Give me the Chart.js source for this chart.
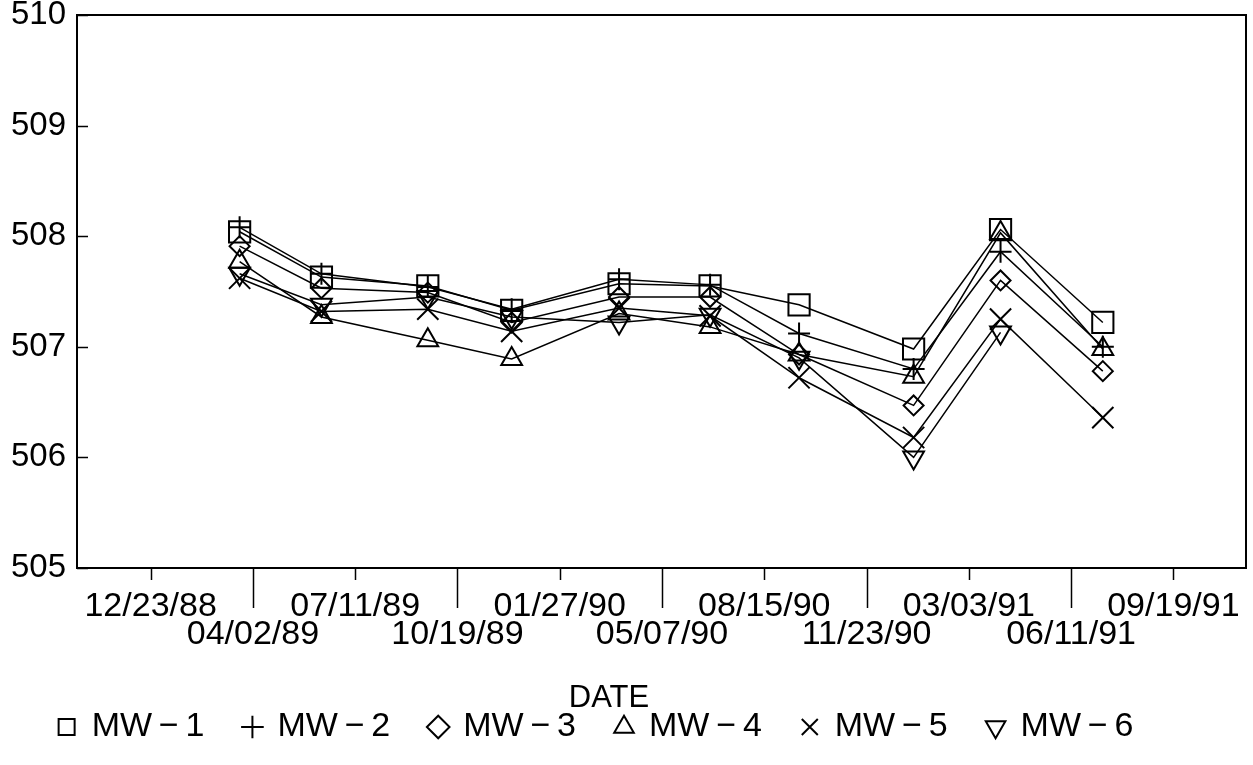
<!DOCTYPE html>
<html>
<head>
<meta charset="utf-8">
<script src="https://cdn.jsdelivr.net/npm/chart.js@4.4.0/dist/chart.umd.min.js"></script>
<style>
  html, body { margin: 0; padding: 0; background: #fff; }
</style>
</head>
<body>
<canvas id="levelChart" width="1253" height="765"></canvas>
<script>
// sampling dates (mm/dd/yy) and water levels per well
const sampleDates = ['03/20/89', '06/08/89', '09/20/89', '12/11/89', '03/26/90',
                     '06/23/90', '09/18/90', '01/08/91', '04/03/91', '07/12/91'];

const mw1 = [508.04, 507.63, 507.55, 507.33, 507.57, 507.55, 507.38, 506.98, 508.06, 507.22];
const mw2 = [508.08, 507.66, 507.54, 507.34, 507.61, 507.56, 507.12, 506.80, 507.86, 507.00];
const mw3 = [507.91, 507.53, 507.49, 507.22, 507.45, 507.45, 506.93, 506.47, 507.60, 506.78];
const mw4 = [507.77, 507.27, 507.06, 506.89, 507.30, 507.18, 506.93, 506.73, 508.03, 506.98];
const mw5 = [507.62, 507.32, 507.34, 507.14, 507.35, 507.28, 506.72, 506.18, 507.25, 506.36];
const mw6 = [507.66, 507.38, 507.45, 507.27, 507.22, 507.29, 506.90, 506.00, 507.13, null];

const seriesNames = ['MW\u2009\u2212\u20091', 'MW\u2009\u2212\u20092', 'MW\u2009\u2212\u20093',
                     'MW\u2009\u2212\u20094', 'MW\u2009\u2212\u20095', 'MW\u2009\u2212\u20096'];

// x axis tick labels, every 100 days
const tickLabels = ['12/23/88', '04/02/89', '07/11/89', '10/19/89', '01/27/90', '05/07/90',
                    '08/15/90', '11/23/90', '03/03/91', '06/11/91', '09/19/91'];
const yTicks = [505, 506, 507, 508, 509, 510];

const dayZero = Date.UTC(1988, 11, 23);
function toDays(s) {
  const [m, d, y] = s.split('/').map(Number);
  return Math.round((Date.UTC(1900 + y, m - 1, d) - dayZero) / 86400000);
}
const tickDays = tickLabels.map(toDays);
const xMin = -72, xMax = 1071;

function points(values) {
  return sampleDates.map((d, i) => ({ x: toDays(d), y: values[i] }));
}

const styles = [
  { pointStyle: 'rect', radius: 15, rotation: 0 },
  { pointStyle: 'cross', radius: 11, rotation: 0 },
  { pointStyle: 'rectRot', radius: 10, rotation: 0 },
  { pointStyle: 'triangle', radius: 12, rotation: 0 },
  { pointStyle: 'crossRot', radius: 15, rotation: 0 },
  { pointStyle: 'triangle', radius: 12, rotation: 180 }
];

const datasets = [mw1, mw2, mw3, mw4, mw5, mw6].map((vals, i) => ({
  label: seriesNames[i],
  data: points(vals),
  borderColor: '#000',
  backgroundColor: 'rgba(0,0,0,0)',
  borderWidth: 1.5,
  pointStyle: styles[i].pointStyle,
  pointRadius: styles[i].radius,
  pointRotation: styles[i].rotation,
  pointBorderWidth: 2,
  pointBackgroundColor: 'rgba(0,0,0,0)',
  pointBorderColor: '#000',
  tension: 0
}));

// frame round the plot, outward ticks on x, inward ticks on y
const axisMarks = {
  id: 'axisMarks',
  afterDraw(chart) {
    const { ctx, chartArea: a, scales: { x, y } } = chart;
    ctx.save();
    ctx.strokeStyle = '#000';
    ctx.lineWidth = 2;
    ctx.strokeRect(a.left, a.top, a.right - a.left, a.bottom - a.top);
    ctx.lineWidth = 1.5;
    ctx.beginPath();
    tickDays.forEach((d, i) => {
      const px = Math.round(x.getPixelForValue(d)) + 0.5;
      ctx.moveTo(px, a.bottom);
      ctx.lineTo(px, a.bottom + (i % 2 ? 40 : 12));
    });
    yTicks.forEach(v => {
      const py = Math.round(y.getPixelForValue(v)) + 0.5;
      ctx.moveTo(a.left, py);
      ctx.lineTo(a.left + 11, py);
    });
    ctx.stroke();
    ctx.restore();
  }
};

// the axis title and legend sit a bit left of centre in the original
const shiftBoxes = {
  id: 'shiftBoxes',
  afterLayout(chart) {
    chart.legend.left -= 27;
    chart.legend.right -= 27;
    chart.titleBlock.left -= 14;
    chart.titleBlock.right -= 14;
  }
};

Chart.defaults.font.family = '"Liberation Sans", Arial, sans-serif';
Chart.defaults.color = '#000';

const ctx = document.getElementById('levelChart').getContext('2d');
new Chart(ctx, {
  type: 'line',
  data: { datasets: datasets },
  options: {
    responsive: false,
    animation: false,
    devicePixelRatio: 1,
    layout: { autoPadding: false, padding: { top: 15, right: 7, left: 0, bottom: 11 } },
    scales: {
      x: {
        type: 'linear',
        min: xMin,
        max: xMax,
        afterBuildTicks: axis => { axis.ticks = tickDays.map(v => ({ value: v })); },
        afterFit: scale => {
          scale.height = 95;
          scale.paddingLeft = 0;
          scale.paddingRight = 0;
        },
        grid: { display: false, drawTicks: false },
        border: { display: false },
        ticks: {
          autoSkip: false,
          maxRotation: 0,
          padding: 25,
          font: { size: 34, lineHeight: 0.82 },
          callback: (value) => {
            const i = tickDays.indexOf(value);
            return i % 2 ? ['', tickLabels[i]] : tickLabels[i];
          }
        }
      },
      y: {
        min: 505,
        max: 510,
        afterBuildTicks: axis => { axis.ticks = yTicks.map(v => ({ value: v })); },
        afterFit: scale => {
          scale.width = 77;
          scale.paddingTop = 0;
          scale.paddingBottom = 0;
        },
        grid: { display: false, drawTicks: false },
        border: { display: false },
        ticks: { padding: 11, font: { size: 33 } }
      }
    },
    plugins: {
      title: {
        display: true,
        text: 'DATE',
        position: 'bottom',
        weight: 500,
        font: { size: 31, weight: 'normal', lineHeight: 1 },
        padding: { top: 20, bottom: -44 }
      },
      legend: {
        position: 'bottom',
        labels: {
          usePointStyle: true,
          boxWidth: 16,
          boxHeight: 16,
          padding: 40,
          font: { size: 34, lineHeight: 1 }
        }
      },
      tooltip: { enabled: false }
    }
  },
  plugins: [axisMarks, shiftBoxes]
});
</script>
</body>
</html>
